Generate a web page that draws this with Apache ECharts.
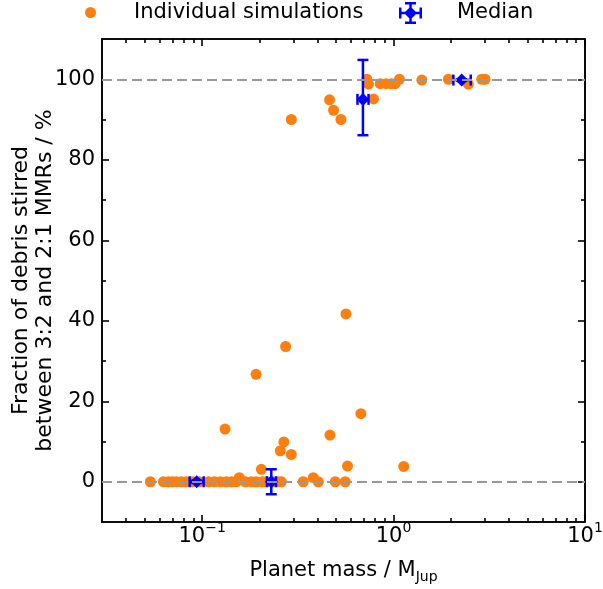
<!DOCTYPE html>
<html>
<head>
<meta charset="utf-8">
<script src="https://cdn.jsdelivr.net/npm/echarts@6/dist/echarts.min.js"></script>
<style>
  html, body { margin: 0; padding: 0; background: #ffffff; }
  #chart { width: 603px; height: 589px; }
</style>
</head>
<body>
<div id="chart"></div>
<script>
// Individual simulations: planet mass (M_Jup) and stirred fraction (%)
const simMass = [
  0.0537, 0.0628, 0.0667, 0.0700, 0.0734, 0.0780, 0.0828, 0.0890, 0.0968, 0.1079,
  0.1159, 0.1246, 0.1339, 0.1422, 0.1510, 0.1565, 0.1682, 0.1808, 0.1920, 0.2064,
  0.2165, 0.2327, 0.2501, 0.2593, 0.3376, 0.3807, 0.4044, 0.4960, 0.5591,
  0.1318, 0.1913, 0.2039, 0.2561, 0.2672, 0.2730, 0.2924, 0.4653, 0.5640, 0.5748,
  0.6751, 1.1300,
  0.2924, 0.4631, 0.4860, 0.5311, 0.7256, 0.7397, 0.7858, 0.8515, 0.9150, 0.9716,
  1.0193, 1.0734, 1.4051, 1.9340, 2.4590, 2.8878, 3.0046
];
const simFrac = [
  0, 0, 0, 0, 0, 0, 0, 0, 0, 0,
  0, 0, 0, 0, 0, 1.0, 0, 0, 0, 0,
  0, 0, 0, 0, 0, 1.0, 0, 0, 0,
  13.1, 26.7, 3.1, 7.7, 9.9, 33.6, 6.8, 11.6, 41.7, 3.9,
  16.9, 3.8,
  90.0, 94.9, 92.3, 90.0, 100, 98.8, 95.1, 98.9, 98.9, 98.9,
  98.9, 100, 99.8, 100, 98.8, 100, 100
];

// Medians with their spreads
const medianMass = [0.0937, 0.2298, 0.692, 2.27];
const medianMassLow = [0.0861, 0.2183, 0.648, 2.053];
const medianMassHigh = [0.1019, 0.2432, 0.740, 2.53];
const medianFrac = [0, 0, 95.0, 99.8];
const medianFracLow = [-0.3, -3.1, 86.1, 99.6];
const medianFracHigh = [0.3, 3.1, 104.8, 100.0];

// Reference levels (dashed)
const referenceLevels = [0, 100];

// Ticks
const xMajorTicks = [0.1, 1, 10];
const xTickExponents = ['\u22121', '0', '1'];
const xMinorTicks = [0.04, 0.05, 0.06, 0.07, 0.08, 0.09,
  0.2, 0.3, 0.4, 0.5, 0.6, 0.7, 0.8, 0.9,
  2, 3, 4, 5, 6, 7, 8, 9];
const yMajorTicks = [0, 20, 40, 60, 80, 100];
const yMinorTicks = [10, 30, 50, 70, 90];

const FONT = 'DejaVu Sans';
const FS = 21;
const BLACK = '#000000';
const ORANGE = '#ff7f0e';
const BLUE = '#0000ff';

const spine = { show: true, onZero: false, lineStyle: { color: BLACK, width: 1.6 } };

function xAxisDef(position, ticks, len, withLabels) {
  const ax = {
    type: 'log', logBase: 10, min: 0.03, max: 10, position: position,
    axisLine: spine,
    splitLine: { show: false },
    minorTick: { show: false },
    axisTick: { show: true, inside: true, length: len, customValues: ticks,
      lineStyle: { color: BLACK, width: 1.6 } },
    axisLabel: { show: false }
  };
  if (withLabels) {
    ax.axisLabel = {
      show: true, margin: -1, customValues: xMajorTicks,
      formatter: function (v) {
        let idx = 0;
        xMajorTicks.forEach(function (t, i) { if (Math.abs(t - v) / t < 1e-6) idx = i; });
        return '{b|10}{e|' + xTickExponents[idx] + '}';
      },
      rich: {
        b: { fontSize: FS, fontFamily: FONT, color: BLACK, lineHeight: 26, verticalAlign: 'bottom' },
        e: { fontSize: 14, fontFamily: FONT, color: BLACK, lineHeight: 14, verticalAlign: 'top' }
      }
    };
    ax.name = '{n|Planet mass / M}{s|Jup}';
    ax.nameLocation = 'middle';
    ax.nameGap = 36;
    ax.nameMoveOverlap = false;
    ax.nameTextStyle = {
      rich: {
        n: { fontSize: FS, fontFamily: FONT, color: BLACK, lineHeight: 26 },
        s: { fontSize: 14, fontFamily: FONT, color: BLACK, lineHeight: 14, verticalAlign: 'bottom' }
      }
    };
  }
  return ax;
}

function yAxisDef(position, ticks, len, withLabels) {
  const ax = {
    type: 'value', min: -10, max: 110, position: position,
    axisLine: spine,
    splitLine: { show: false },
    minorTick: { show: false },
    axisTick: { show: true, inside: true, length: len, customValues: ticks,
      lineStyle: { color: BLACK, width: 1.6 } },
    axisLabel: { show: false }
  };
  if (withLabels) {
    ax.axisLabel = {
      show: true, margin: 7, customValues: yMajorTicks,
      fontSize: FS, fontFamily: FONT, color: BLACK
    };
    ax.name = 'Fraction of debris stirred\nbetween 3:2 and 2:1 MMRs / %';
    ax.nameLocation = 'middle';
    ax.nameRotate = 90;
    ax.nameGap = 45;
    ax.nameMoveOverlap = false;
    ax.nameTextStyle = { fontSize: 22, fontFamily: FONT, color: BLACK, lineHeight: 24, align: 'center' };
  }
  return ax;
}

const medianIcon = 'path://M0,9.75h23v2.5h-23z M10.25,0h2.5v22h-2.5z M0,5.5h2.5v11h-2.5z M20.5,5.5h2.5v11h-2.5z ' +
  'M6,0h11v2.5h-11z M6,19.5h11v2.5h-11z M11.5,4.5L18,11L11.5,17.5L5,11z';

const legendText = { fontSize: FS, fontFamily: FONT, color: BLACK };

const option = {
  animation: false,
  backgroundColor: '#ffffff',
  grid: { left: 102, right: 18, top: 39, bottom: 67, containLabel: false, outerBoundsMode: 'none' },
  legend: [
    {
      data: [{ name: 'Individual simulations', icon: 'circle', itemStyle: { color: ORANGE } }],
      left: 85, top: 2, padding: 0, itemWidth: 11, itemHeight: 11,
      textStyle: Object.assign({ padding: [0, 0, 0, 33] }, legendText)
    },
    {
      data: [{ name: 'Median', icon: medianIcon, itemStyle: { color: BLUE } }],
      left: 399, top: 2, padding: 0, itemWidth: 23, itemHeight: 22,
      textStyle: Object.assign({ padding: [0, 0, 0, 30] }, legendText)
    }
  ],
  xAxis: [
    xAxisDef('bottom', xMajorTicks, 7, true),
    xAxisDef('bottom', xMinorTicks, 4, false),
    xAxisDef('top', xMajorTicks, 7, false),
    xAxisDef('top', xMinorTicks, 4, false)
  ],
  yAxis: [
    yAxisDef('left', yMajorTicks, 7, true),
    yAxisDef('left', yMinorTicks, 4, false),
    yAxisDef('right', yMajorTicks, 7, false),
    yAxisDef('right', yMinorTicks, 4, false)
  ],
  series: [
    {
      // dashed reference levels
      type: 'line', name: 'levels', data: [], xAxisIndex: 0, yAxisIndex: 0, z: 1,
      markLine: {
        silent: true, symbol: ['none', 'none'],
        label: { show: false },
        lineStyle: { color: '#999999', width: 2, type: [10, 5] },
        data: referenceLevels.map(function (v) { return { yAxis: v }; })
      }
    },
    {
      type: 'scatter', name: 'Individual simulations', xAxisIndex: 0, yAxisIndex: 0, z: 2,
      symbol: 'circle', symbolSize: 11,
      itemStyle: { color: ORANGE, opacity: 1 },
      data: simMass.map(function (m, i) { return [m, simFrac[i]]; })
    },
    {
      type: 'custom', name: 'Median', xAxisIndex: 0, yAxisIndex: 0, z: 3,
      itemStyle: { color: BLUE },
      data: medianMass.map(function (m, i) {
        return [m, medianFrac[i], medianMassLow[i], medianMassHigh[i], medianFracLow[i], medianFracHigh[i]];
      }),
      encode: { x: [0, 2, 3], y: [1, 4, 5] },
      renderItem: function (params, api) {
        const c = api.coord([api.value(0), api.value(1)]);
        const xl = api.coord([api.value(2), api.value(1)])[0];
        const xh = api.coord([api.value(3), api.value(1)])[0];
        const yl = api.coord([api.value(0), api.value(4)])[1];
        const yh = api.coord([api.value(0), api.value(5)])[1];
        const cap = 5.5;
        const st = { stroke: BLUE, lineWidth: 2.5, fill: null };
        const seg = function (x1, y1, x2, y2) {
          return { type: 'line', shape: { x1: x1, y1: y1, x2: x2, y2: y2 }, style: st };
        };
        return {
          type: 'group',
          children: [
            seg(xl, c[1], xh, c[1]),
            seg(xl, c[1] - cap, xl, c[1] + cap),
            seg(xh, c[1] - cap, xh, c[1] + cap),
            seg(c[0], yl, c[0], yh),
            seg(c[0] - cap, yl, c[0] + cap, yl),
            seg(c[0] - cap, yh, c[0] + cap, yh)
          ]
        };
      }
    },
    {
      type: 'scatter', name: 'Median', xAxisIndex: 0, yAxisIndex: 0, z: 4,
      symbol: 'diamond', symbolSize: [13, 13],
      itemStyle: { color: BLUE, opacity: 1 },
      data: medianMass.map(function (m, i) { return [m, medianFrac[i]]; })
    }
  ]
};

const chart = echarts.init(document.getElementById('chart'), null, { renderer: 'canvas' });
chart.setOption(option);
</script>
</body>
</html>
